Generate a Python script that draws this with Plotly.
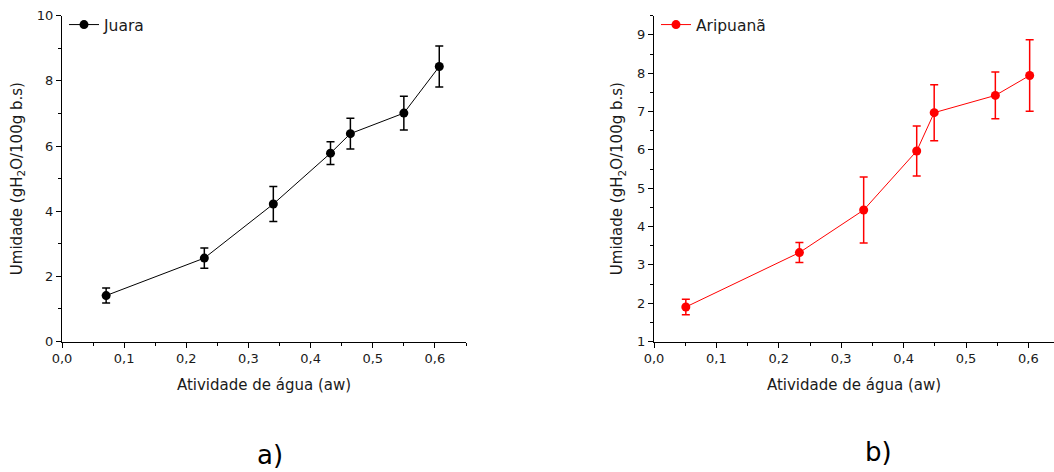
import plotly.graph_objects as go

# ---- data ----
aw_juara = [0.071, 0.229, 0.340, 0.432, 0.464, 0.550, 0.607]
um_juara = [1.41, 2.56, 4.22, 5.78, 6.38, 7.01, 8.44]
err_juara = [0.23, 0.31, 0.54, 0.35, 0.47, 0.52, 0.63]

aw_arip = [0.051, 0.233, 0.336, 0.421, 0.449, 0.547, 0.602]
um_arip = [1.90, 3.32, 4.43, 5.97, 6.97, 7.42, 7.94]
err_arip = [0.20, 0.26, 0.86, 0.65, 0.73, 0.61, 0.93]

FONT = "DejaVu Sans, Liberation Sans, Arial, sans-serif"
TXT = "#1a1a1a"
W, H = 1054, 472

fig = go.Figure()
fig.add_trace(go.Scatter(
    x=aw_juara, y=um_juara, mode="lines+markers", name="Juara",
    line=dict(color="black", width=1),
    marker=dict(color="black", size=9),
    error_y=dict(type="data", array=err_juara, color="black", thickness=1.5, width=4),
    xaxis="x", yaxis="y", legend="legend", showlegend=True,
))
fig.add_trace(go.Scatter(
    x=aw_arip, y=um_arip, mode="lines+markers", name="Aripuanã",
    line=dict(color="#ff0000", width=1),
    marker=dict(color="#ff0000", size=9),
    error_y=dict(type="data", array=err_arip, color="#ff0000", thickness=1.5, width=4),
    xaxis="x2", yaxis="y2", legend="legend2", showlegend=True,
))

ydom = [1 - 341.5 / H, 1 - 15.7 / H]
axis_common = dict(
    showline=True, linecolor="black", linewidth=1, mirror=False,
    ticks="outside", ticklen=5, tickwidth=1, tickcolor="black",
    showgrid=False, zeroline=False, automargin=False,
    tickfont=dict(family=FONT, size=13, color=TXT),
)
ytitle = dict(text="Umidade (gH<sub>2</sub>O/100g b.s)", font=dict(family=FONT, size=15, color=TXT), standoff=10)
xtitle = dict(text="Atividade de água (aw)", font=dict(family=FONT, size=15, color=TXT), standoff=14)
minor_x = dict(dtick=0.05, ticks="outside", ticklen=3, tickcolor="black")

fig.update_layout(
    width=W, height=H,
    margin=dict(l=0, r=0, t=0, b=0),
    paper_bgcolor="white", plot_bgcolor="white",
    separators=", ",
    showlegend=True,
    font=dict(family=FONT, size=14, color=TXT),
    xaxis=dict(domain=[62 / W, 466 / W], range=[0, 0.65], dtick=0.1, tick0=0, tickformat=".1f",
               anchor="y", title=xtitle, minor=minor_x, **axis_common),
    yaxis=dict(domain=ydom, range=[0, 10], dtick=2, tick0=0, anchor="x", title=ytitle,
               minor=dict(dtick=1, ticks="outside", ticklen=3, tickcolor="black"), **axis_common),
    xaxis2=dict(domain=[654 / W, 1.0], range=[0, 0.641], dtick=0.1, tick0=0, tickformat=".1f",
                anchor="y2", title=xtitle, minor=minor_x, **axis_common),
    yaxis2=dict(domain=ydom, range=[1, 9.5], dtick=1, tick0=1, anchor="x2", title=ytitle,
                minor=dict(dtick=0.5, ticks="outside", ticklen=3, tickcolor="black"), **axis_common),
    legend=dict(x=64 / W, y=1 - 8 / H, xanchor="left", yanchor="top",
                bgcolor="rgba(0,0,0,0)", font=dict(family=FONT, size=15.5, color=TXT),
                itemwidth=30, tracegroupgap=0),
    legend2=dict(x=656 / W, y=1 - 8 / H, xanchor="left", yanchor="top",
                 bgcolor="rgba(0,0,0,0)", font=dict(family=FONT, size=15.5, color=TXT),
                 itemwidth=30, tracegroupgap=0),
    annotations=[
        dict(text="a)", x=270 / W, y=1 - 455 / H, xref="paper", yref="paper",
             xanchor="center", yanchor="middle",
             showarrow=False, font=dict(family=FONT, size=26, color="black")),
        dict(text="b)", x=878 / W, y=1 - 452 / H, xref="paper", yref="paper",
             xanchor="center", yanchor="middle",
             showarrow=False, font=dict(family=FONT, size=26, color="black")),
    ],
)

fig.write_html("out.html", config={"displayModeBar": False},
               post_script="document.body.style.margin='0';document.body.style.overflow='hidden';")
